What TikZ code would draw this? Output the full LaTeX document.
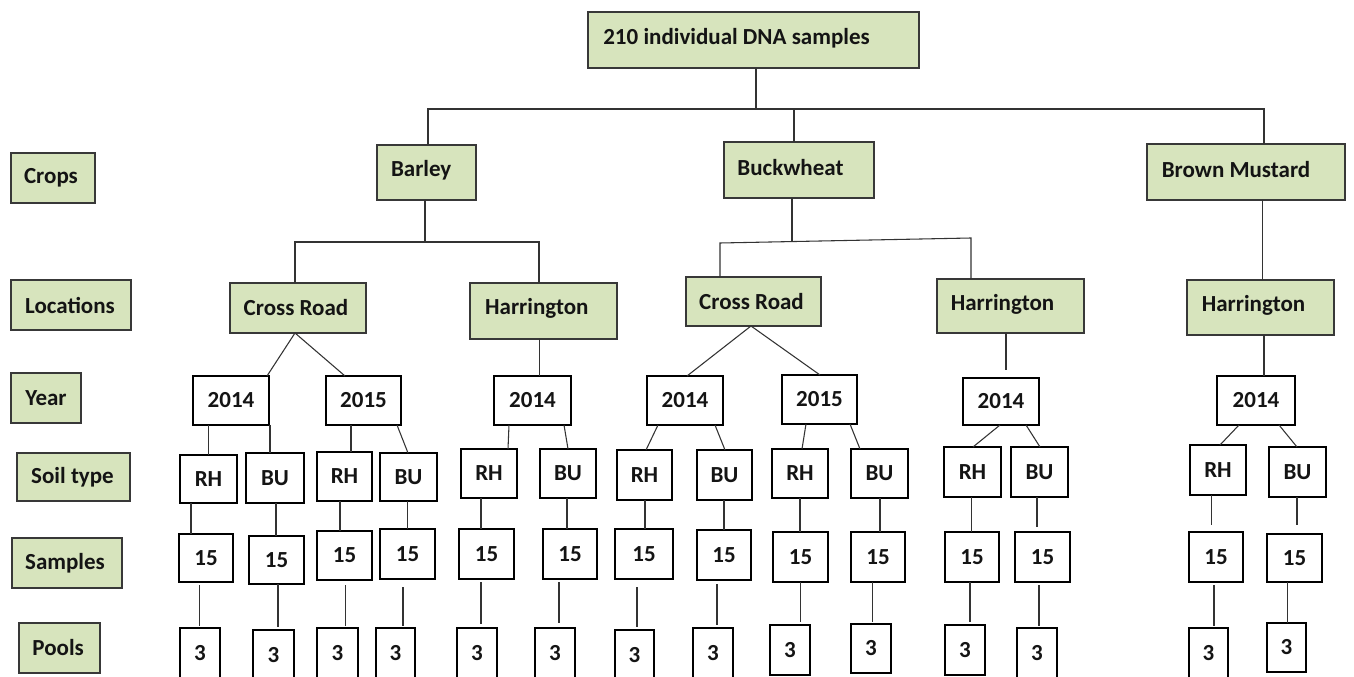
\documentclass[tikz,border=0pt]{standalone}
\usepackage{fontspec}
\setmainfont{Carlito}
\definecolor{boxgreen}{HTML}{D7E4BD}
\tikzset{
  gbox/.style={draw=black!78, line width=1.1pt, fill=boxgreen, inner sep=0pt, outer sep=0pt},
  wbox/.style={draw=black, line width=1pt, fill=white, inner sep=0pt, outer sep=0pt},
  lbl/.style={font=\bfseries\fontsize{17.25}{20}\selectfont, inner sep=0pt, text=black!92},
  conn/.style={draw=black!80, line width=0.8pt},
}
% [label options]{style}{name}{x1}{y1}{x2}{y2}{text}
\newcommand\mybx[8][]{\node[#2, minimum width={(#6-#4)*0.75pt}, minimum height={(#7-#5)*0.75pt},
  label={[lbl,#1]center:#8}] (#3) at ({(#4+#6)/2},{(#5+#7)/2}) {};}
% vertical connector [opts]{from}{to}{x}
\newcommand\myvc[4][]{\draw[conn,#1] (#2.south -| #4,0) -- (#3.north -| #4,0);}
% slanted connector {from}{to}{xa}{xb}
\newcommand\myslc[4]{\draw[conn] (#1.south -| #3,0) -- (#2.north -| #4,0);}
\begin{document}
\begin{tikzpicture}[x=0.75pt, y=-0.75pt]
\useasboundingbox (0,0) rectangle (1354,677);
\clip (0,0) rectangle (1354,677);
\fill[white] (0,0) rectangle (1354,677);

% ---- green boxes ----
\mybx[xshift=-12.75pt, yshift=1pt]{gbox}{top}{588}{12}{919}{68}{210 individual DNA samples}
\mybx[xshift=-1.5pt]{gbox}{crops}{11}{153}{95}{203}{Crops}
\mybx[xshift=-0.75pt]{gbox}{locs}{11}{280}{131}{330}{Locations}
\mybx{gbox}{year}{11}{373}{81}{423}{Year}
\mybx[xshift=-0.75pt]{gbox}{soil}{17}{453}{130}{501}{Soil type}
\mybx[xshift=-1.5pt]{gbox}{samp}{12}{538}{122}{588}{Samples}
\mybx[xshift=-1pt]{gbox}{pools}{19}{623}{100}{673}{Pools}

\mybx[xshift=-4pt, yshift=2pt]{gbox}{barley}{377}{145}{476}{200}{Barley}
\mybx[xshift=-6.4pt, yshift=1.5pt]{gbox}{buck}{724}{142}{874}{198}{Buckwheat}
\mybx[xshift=-7.5pt, yshift=1.5pt]{gbox}{bm}{1147}{144}{1345}{200}{Brown Mustard}

\mybx[xshift=-1.5pt]{gbox}{crb}{230}{283}{366}{333}{Cross Road}
\mybx[xshift=-5pt, yshift=2pt]{gbox}{hab}{470}{283}{617}{339}{Harrington}
\mybx[xshift=-1.5pt]{gbox}{crw}{686}{277}{821}{326}{Cross Road}
\mybx[xshift=-6pt, yshift=1.5pt]{gbox}{haw}{937}{279}{1084}{333}{Harrington}
\mybx[xshift=-5.25pt, yshift=1.5pt]{gbox}{hbm}{1187}{280}{1334}{335}{Harrington}

% ---- years ----
\mybx{wbox}{yb1}{193}{376}{269}{425}{2014}
\mybx{wbox}{yb2}{326}{376}{401}{425}{2015}
\mybx{wbox}{yb3}{494}{376}{571}{425}{2014}
\mybx{wbox}{yw1}{647}{376}{723}{425}{2014}
\mybx{wbox}{yw2}{782}{375}{857}{424}{2015}
\mybx{wbox}{yw3}{963}{378}{1039}{425}{2014}
\mybx{wbox}{ym}{1217}{376}{1295}{425}{2014}

% ---- soil types ----
\mybx{wbox}{s1}{180}{455}{237}{503}{RH}
\mybx{wbox}{s2}{246}{453}{304}{503}{BU}
\mybx{wbox}{s3}{317}{452}{372}{501}{RH}
\mybx{wbox}{s4}{380}{453}{437}{501}{BU}
\mybx{wbox}{s5}{461}{449}{517}{498}{RH}
\mybx{wbox}{s6}{540}{449}{596}{498}{BU}
\mybx{wbox}{s7}{617}{450}{672}{500}{RH}
\mybx{wbox}{s8}{697}{450}{752}{500}{BU}
\mybx{wbox}{s9}{772}{449}{828}{498}{RH}
\mybx{wbox}{s10}{851}{449}{908}{498}{BU}
\mybx{wbox}{s11}{944}{447}{1001}{497}{RH}
\mybx{wbox}{s12}{1011}{447}{1068}{497}{BU}
\mybx{wbox}{s13}{1190}{445}{1246}{495}{RH}
\mybx{wbox}{s14}{1269}{447}{1326}{497}{BU}

% ---- samples ----
\mybx{wbox}{n1}{179}{534}{233}{582}{15}
\mybx{wbox}{n2}{249}{536}{304}{584}{15}
\mybx{wbox}{n3}{317}{531}{372}{580}{15}
\mybx{wbox}{n4}{380}{529}{435}{579}{15}
\mybx{wbox}{n5}{459}{529}{514}{579}{15}
\mybx{wbox}{n6}{543}{529}{597}{579}{15}
\mybx{wbox}{n7}{615}{529}{673}{579}{15}
\mybx{wbox}{n8}{697}{530}{751}{580}{15}
\mybx{wbox}{n9}{773}{532}{828}{582}{15}
\mybx{wbox}{n10}{851}{532}{905}{582}{15}
\mybx{wbox}{n11}{945}{532}{999}{582}{15}
\mybx{wbox}{n12}{1015}{532}{1070}{582}{15}
\mybx{wbox}{n13}{1189}{532}{1243}{582}{15}
\mybx{wbox}{n14}{1267}{534}{1322}{582}{15}

% ---- pools ----
\mybx{wbox}{p1}{180}{628}{220}{679}{3}
\mybx{wbox}{p2}{253}{630}{294}{680}{3}
\mybx{wbox}{p3}{317}{628}{358}{679}{3}
\mybx{wbox}{p4}{376}{628}{415}{679}{3}
\mybx{wbox}{p5}{457}{628}{497}{679}{3}
\mybx{wbox}{p6}{535}{628}{575}{679}{3}
\mybx{wbox}{p7}{615}{630}{654}{680}{3}
\mybx{wbox}{p8}{693}{628}{733}{679}{3}
\mybx{wbox}{p9}{770}{625}{810}{675}{3}
\mybx{wbox}{p10}{851}{624}{891}{673}{3}
\mybx{wbox}{p11}{945}{625}{985}{675}{3}
\mybx{wbox}{p12}{1017}{628}{1057}{679}{3}
\mybx{wbox}{p13}{1189}{628}{1228}{679}{3}
\mybx{wbox}{p14}{1267}{623}{1306}{672}{3}

% ---- connectors: root -> crops ----
\coordinate (j0) at (756,109);
\draw[conn] (top.south -| j0) -- (j0);
\draw[conn] (barley.north -| 428,0) |- (j0) -| (bm.north -| 1264,0);
\draw[conn] (buck.north -| 794,0) -- (j0 -| 794,0);

% ---- crops -> locations ----
\coordinate (jb1) at (295,242);
\coordinate (jb2) at (539,242);
\draw[conn] (barley.south -| 425,0) -- (jb1 -| 425,0);
\draw[conn] (crb.north -| jb1) -- (jb1) -- (jb2) -- (hab.north -| jb2);
\coordinate (jw1) at (720,243);
\coordinate (jw2) at (971,238);
\coordinate (jw) at (792,241.6);
\draw[conn] (buck.south -| jw) -- (jw);
\draw[conn] (crw.north -| jw1) -- (jw1) -- (jw2) -- (haw.north -| jw2);
\draw[conn] (bm.south -| 1262.5,0) -- (hbm.north -| 1262.5,0);

% ---- locations -> years ----
\draw[conn] (yb1.north -| 267,0) -- (crb.south -| 295,0) -- (yb2.north -| 345,0);
\myvc{hab}{yb3}{539.5}
\draw[conn] (yw1.north -| 687,0) -- (crw.south -| 751,0) -- (yw2.north -| 820,0);
\myvc[shorten >=6pt]{haw}{yw3}{1006}
\myvc{hbm}{ym}{1264}

% ---- years -> soil ----
\myslc{yb1}{s1}{208.6}{208.6}
\myslc{yb1}{s2}{270}{270}
\myslc{yb2}{s3}{351}{351}
\myslc{yb2}{s4}{397}{408}
\myslc{yb3}{s5}{509}{508}
\myslc{yb3}{s6}{564}{568}
\myslc{yw1}{s7}{658}{646}
\myslc{yw1}{s8}{715}{725}
\myslc{yw2}{s9}{806}{802}
\myslc{yw2}{s10}{850}{860}
\myslc{yw3}{s11}{1000}{973}
\myslc{yw3}{s12}{1026}{1040}
\myslc{ym}{s13}{1239}{1220}
\myslc{ym}{s14}{1279}{1297}

% ---- soil -> samples ----
\myvc{s1}{n1}{191}
\myvc{s2}{n2}{276}
\myvc{s3}{n3}{340}
\myvc{s4}{n4}{407.6}
\myvc{s5}{n5}{481}
\myvc{s6}{n6}{567}
\myvc{s7}{n7}{645}
\myvc{s8}{n8}{724}
\myvc{s9}{n9}{800}
\myvc{s10}{n10}{880}
\myvc{s11}{n11}{971.5}
\myvc[shorten >=3.75pt]{s12}{n12}{1037}
\myvc[shorten >=5.25pt]{s13}{n13}{1211.7}
\myvc[shorten >=6.75pt]{s14}{n14}{1297}

% ---- samples -> pools ----
\myvc[shorten <=2.25pt, shorten >=1.5pt]{n1}{p1}{199.5}
\myvc[shorten >=2.25pt]{n2}{p2}{278}
\myvc[shorten <=3.75pt, shorten >=1.5pt]{n3}{p3}{345.6}
\myvc[shorten <=6pt, shorten >=1.5pt]{n4}{p4}{403}
\myvc[shorten <=2.25pt, shorten >=3pt]{n5}{p5}{481}
\myvc[shorten <=2.25pt, shorten >=3.75pt]{n6}{p6}{559}
\myvc[shorten <=6pt, shorten >=2.25pt]{n7}{p7}{637}
\myvc[shorten <=3pt, shorten >=2.25pt]{n8}{p8}{717}
\myvc[shorten >=2.25pt]{n9}{p9}{800.6}
\myvc[shorten >=1.5pt]{n10}{p10}{872.6}
\myvc[shorten >=2.25pt]{n11}{p11}{970}
\myvc[shorten <=2.25pt, shorten >=1.5pt]{n12}{p12}{1039}
\myvc[shorten <=2.25pt, shorten >=1.5pt]{n13}{p13}{1214}
\myvc{n14}{p14}{1287.6}
\end{tikzpicture}
\end{document}
